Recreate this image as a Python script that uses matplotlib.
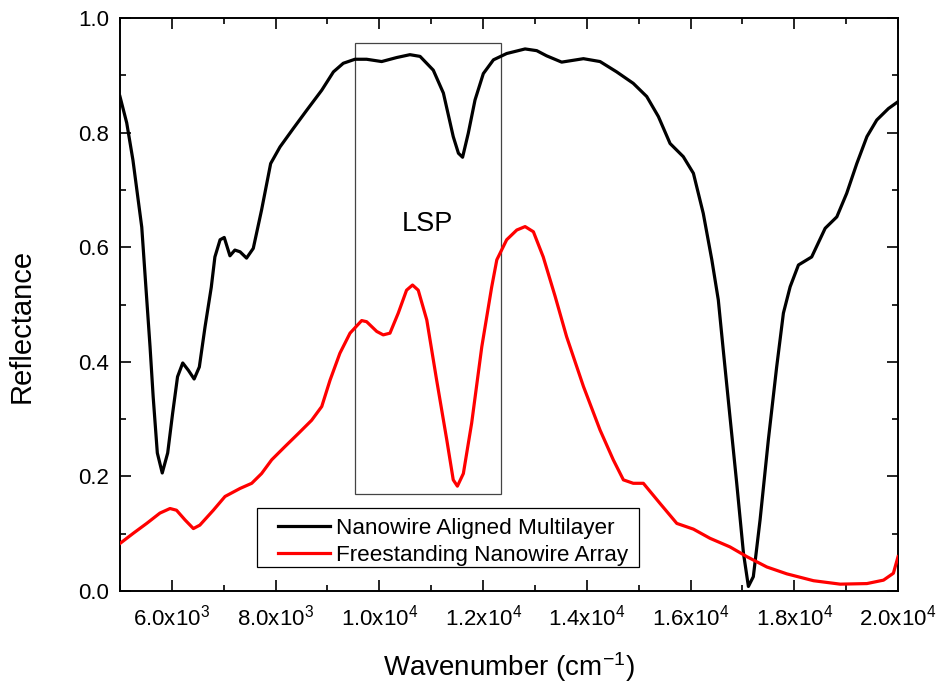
import matplotlib
matplotlib.use("Agg")
import matplotlib.pyplot as plt
from matplotlib.patches import Rectangle
from matplotlib.ticker import MultipleLocator, FixedLocator, FixedFormatter, FormatStrFormatter

plt.rcParams['font.family'] = ['Liberation Sans', 'DejaVu Sans']
plt.rcParams['mathtext.fontset'] = 'custom'
plt.rcParams['mathtext.rm'] = 'Liberation Sans'
plt.rcParams['mathtext.it'] = 'Liberation Sans'

# Nanowire Aligned Multilayer
wn_black = [5000, 5130, 5250, 5420, 5500, 5580, 5640, 5720, 5815, 5920, 6015, 6110, 6210, 6320,
            6430, 6530, 6640, 6760, 6830, 6930, 7010, 7120, 7215, 7315, 7440, 7570, 7730, 7905,
            8085, 8340, 8600, 8890, 9115, 9305, 9530, 9755, 10045, 10335, 10590, 10785, 11040,
            11235, 11425, 11525, 11605, 11715, 11845, 12005, 12200, 12455, 12810, 13035, 13225,
            13515, 13935, 14255, 14575, 14895, 15155, 15380, 15605, 15860, 16055, 16245, 16410,
            16535, 16630, 16760, 16890, 17020, 17115, 17210, 17340, 17500, 17660, 17790, 17920,
            18080, 18335, 18595, 18820, 19010, 19205, 19400, 19590, 19815, 20000]
refl_black = [0.863, 0.817, 0.752, 0.635, 0.53, 0.426, 0.339, 0.241, 0.206, 0.241, 0.31, 0.374,
              0.398, 0.385, 0.37, 0.391, 0.461, 0.53, 0.583, 0.613, 0.617, 0.585, 0.595, 0.592,
              0.581, 0.598, 0.665, 0.746, 0.775, 0.807, 0.839, 0.874, 0.906, 0.921, 0.928, 0.928,
              0.924, 0.931, 0.936, 0.933, 0.909, 0.869, 0.793, 0.764, 0.757, 0.799, 0.857, 0.903,
              0.927, 0.938, 0.946, 0.943, 0.934, 0.923, 0.929, 0.924, 0.906, 0.886, 0.863, 0.828,
              0.781, 0.758, 0.729, 0.659, 0.578, 0.508, 0.421, 0.304, 0.188, 0.066, 0.008, 0.025,
              0.124, 0.264, 0.391, 0.485, 0.531, 0.569, 0.583, 0.633, 0.653, 0.694, 0.746, 0.793,
              0.822, 0.842, 0.854]

# Freestanding Nanowire Array
wn_red = [5000, 5260, 5515, 5770, 5965, 6090, 6255, 6415, 6540, 6800, 7025, 7315, 7540, 7730,
          7925, 8180, 8440, 8695, 8890, 9050, 9240, 9435, 9660, 9755, 9950, 10075, 10205, 10365,
          10525, 10640, 10750, 10915, 11105, 11300, 11425, 11505, 11620, 11780, 11975, 12165,
          12265, 12455, 12650, 12810, 12970, 13160, 13390, 13610, 13935, 14255, 14510, 14705,
          14895, 15090, 15410, 15735, 16055, 16375, 16760, 17085, 17470, 17855, 18370, 18885,
          19400, 19720, 19910, 20000]
refl_red = [0.083, 0.101, 0.118, 0.136, 0.144, 0.141, 0.124, 0.109, 0.115, 0.141, 0.165, 0.179,
            0.188, 0.205, 0.229, 0.252, 0.275, 0.298, 0.322, 0.368, 0.415, 0.450, 0.472, 0.470,
            0.453, 0.447, 0.450, 0.485, 0.525, 0.534, 0.525, 0.473, 0.368, 0.264, 0.194, 0.183,
            0.205, 0.293, 0.426, 0.530, 0.578, 0.613, 0.630, 0.636, 0.627, 0.583, 0.514, 0.444,
            0.357, 0.281, 0.229, 0.194, 0.188, 0.188, 0.153, 0.118, 0.108, 0.092, 0.077, 0.060,
            0.042, 0.030, 0.018, 0.012, 0.013, 0.019, 0.031, 0.060]

series_labels = ["Nanowire Aligned Multilayer", "Freestanding Nanowire Array"]
xtick_values = [6000, 8000, 10000, 12000, 14000, 16000, 18000, 20000]
xtick_labels = [r'6.0x10$^{3}$', r'8.0x10$^{3}$', r'1.0x10$^{4}$', r'1.2x10$^{4}$',
                r'1.4x10$^{4}$', r'1.6x10$^{4}$', r'1.8x10$^{4}$', r'2.0x10$^{4}$']
lsp_box = (9530, 12345, 0.169, 0.956)   # x0, x1, y0, y1
lsp_label = ("LSP", 10930, 0.640)

fig = plt.figure(figsize=(9.38, 6.87), dpi=100)
ax = fig.add_axes([0.1279, 0.1397, 0.9574 - 0.1279, 0.9738 - 0.1397])

ax.plot(wn_black, refl_black, color='black', lw=2.3, label=series_labels[0], zorder=3,
        solid_joinstyle='round')
ax.plot(wn_red, refl_red, color='red', lw=2.3, label=series_labels[1], zorder=3,
        solid_joinstyle='round')

x0, x1, y0, y1 = lsp_box
ax.add_patch(Rectangle((x0, y0), x1 - x0, y1 - y0, fill=False, edgecolor='#444444', lw=0.9, zorder=2))
ax.text(lsp_label[1], lsp_label[2], lsp_label[0], fontsize=19.5, ha='center', va='center')

ax.set_xlim(5000, 20000)
ax.set_ylim(0.0, 1.0)
ax.xaxis.set_major_locator(FixedLocator(xtick_values))
ax.xaxis.set_major_formatter(FixedFormatter(xtick_labels))
ax.xaxis.set_minor_locator(MultipleLocator(1000))
ax.yaxis.set_major_locator(MultipleLocator(0.2))
ax.yaxis.set_minor_locator(MultipleLocator(0.1))
ax.yaxis.set_major_formatter(FormatStrFormatter('%.1f'))

ax.tick_params(which='both', direction='in', top=True, right=True, width=1.2)
ax.tick_params(which='major', length=8)
ax.tick_params(which='minor', length=4)
ax.tick_params(axis='y', labelsize=16, pad=8)
ax.tick_params(axis='x', labelsize=16, pad=10)
for s in ax.spines.values():
    s.set_linewidth(1.4)

ax.set_xlabel(r'Wavenumber (cm$^{-1}$)', fontsize=20)
ax.set_ylabel('Reflectance', fontsize=21)
ax.xaxis.set_label_coords(0.5, -0.103)
ax.yaxis.set_label_coords(-0.108, 0.4625)

# legend: entries without frame, frame drawn as a box in axes coordinates
leg = ax.legend(loc='upper left', bbox_to_anchor=(0.2031, 0.1274), borderaxespad=0,
                fontsize=16.2, frameon=False,
                handlelength=2.3, handletextpad=0.3, borderpad=0.0, labelspacing=0.25)
leg.set_zorder(5)
ax.add_patch(Rectangle((0.1761, 0.0419), 0.6671 - 0.1761, 0.1449 - 0.0419,
                       transform=ax.transAxes, facecolor='white', edgecolor='black',
                       lw=0.9, zorder=4))

fig.savefig('out.png', dpi=100)
